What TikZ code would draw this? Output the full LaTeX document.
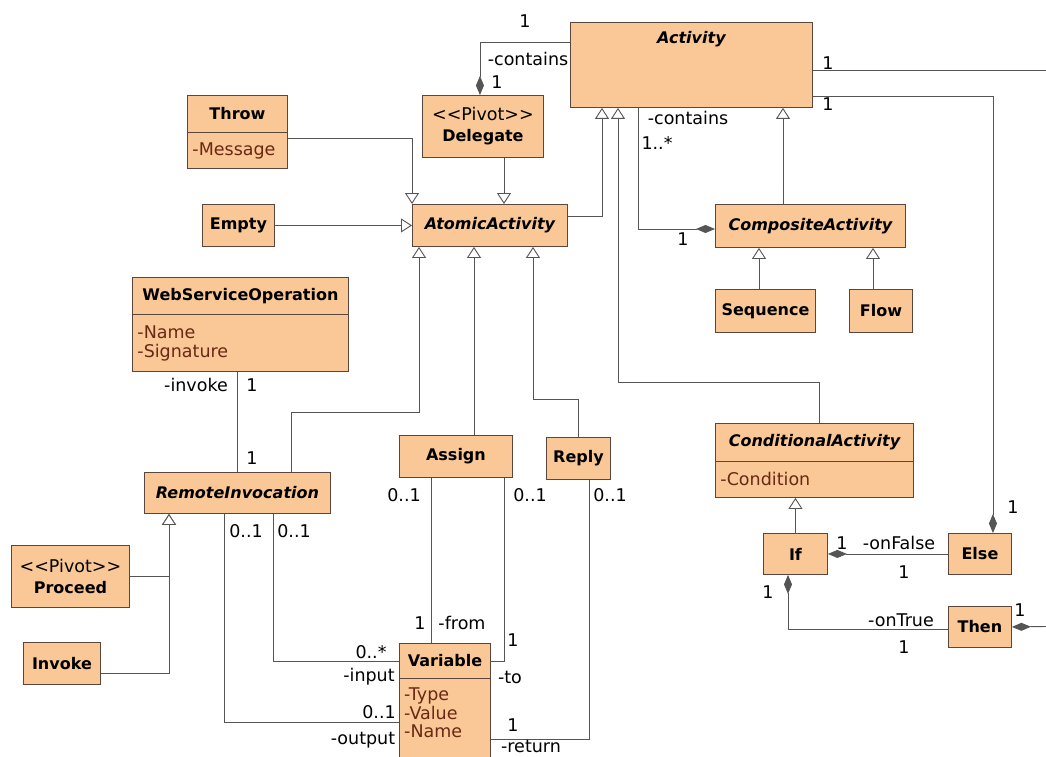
\documentclass[tikz,border=0pt]{standalone}
\usepackage{fontspec}
\setmainfont{DejaVu Sans}
\usetikzlibrary{arrows.meta,positioning}
\definecolor{boxfill}{RGB}{250,200,150}
\definecolor{boxline}{RGB}{90,70,60}
\definecolor{wirec}{RGB}{85,85,85}
\definecolor{attrtext}{RGB}{105,40,20}
\newcommand\lblfont{\fontsize{17.5}{20}\selectfont}
\newcommand\ttlfont{\fontsize{16}{19}\selectfont\bfseries}
\tikzset{
  cls/.style={draw=boxline, fill=boxfill, line width=0.9pt, anchor=north west, inner sep=2pt, align=center, font=\ttlfont},
  abscls/.style={cls, font=\ttlfont\itshape},
  attrbox/.style={draw=boxline, fill=boxfill, line width=0.9pt, anchor=north west, inner xsep=5pt, inner ysep=2pt, align=left, font=\lblfont, text=attrtext},
  lbl/.style={font=\lblfont, inner sep=0pt},
  assoc/.style={draw=wirec, line width=0.9pt},
  gen/.style={assoc, -{Triangle[open, length=11pt, width=14pt, fill=white]}},
  compo/.style={assoc, -{Diamond[length=19pt, width=8pt]}},
  compor/.style={assoc, {Diamond[length=19pt, width=8pt]}-},
}
\begin{document}
\begin{tikzpicture}[x=1pt, y=-1pt]
  \path[use as bounding box, fill=white] (0,0) rectangle (1046,757);
  \coordinate (redge1) at (1046,70);
  \coordinate (redge2) at (1046,626.5);

  % classes
  \node[abscls, minimum width=242, minimum height=85,
    label={[font=\ttlfont\itshape, anchor=north, yshift=-6pt]north:Activity}] (act) at (570,22) {};
  \node[cls, minimum width=121, minimum height=62] (del) at (422,95) {{\lblfont\mdseries <{}<Pivot>{}>}\\[2pt]Delegate};
  \node[cls, minimum width=100, minimum height=37] (throw) at (187,95) {Throw};
  \node[attrbox, text width=90pt, minimum height=36] (throwa) at (187,132) {-Message};
  \node[cls, minimum width=72, minimum height=42] (empty) at (202,204) {Empty};
  \node[abscls, minimum width=155, minimum height=42] (atom) at (412,204) {AtomicActivity};
  \node[abscls, minimum width=190, minimum height=43] (comp) at (715,204) {CompositeActivity};
  \node[cls, minimum width=100, minimum height=43] (seq) at (715,289) {Sequence};
  \node[cls, minimum width=63, minimum height=43] (flow) at (849,289) {Flow};
  \node[cls, minimum width=216, minimum height=37] (wso) at (132,277) {WebServiceOperation};
  \node[attrbox, text width=206pt, minimum height=57] (wsoa) at (132,314) {-Name\\[-1pt]-Signature};
  \node[abscls, minimum width=186, minimum height=41] (remote) at (144,472) {RemoteInvocation};
  \node[cls, minimum width=113, minimum height=42] (assign) at (399,435) {Assign};
  \node[cls, minimum width=64, minimum height=42] (reply) at (546,437) {Reply};
  \node[abscls, minimum width=198, minimum height=38] (cond) at (715,423) {ConditionalActivity};
  \node[attrbox, text width=188pt, minimum height=36] (conda) at (715,461) {-Condition};
  \node[cls, minimum width=64, minimum height=41] (ifn) at (763,533) {If};
  \node[cls, minimum width=63, minimum height=41] (else) at (948,533) {Else};
  \node[cls, minimum width=63, minimum height=41] (then) at (948,606) {Then};
  \node[cls, minimum width=118, minimum height=62] (proceed) at (11,545) {{\lblfont\mdseries <{}<Pivot>{}>}\\[2pt]Proceed};
  \node[cls, minimum width=77, minimum height=42] (invoke) at (23,642) {Invoke};
  \node[cls, minimum width=91, minimum height=35] (var) at (399,643) {Variable};
  \node[attrbox, minimum width=91, minimum height=82] (vara) at (399,678) {};
  \node[lbl, text=attrtext, align=left, anchor=north west, inner xsep=5pt, inner ysep=10pt] (vartxt) at (vara.north west) {-Type\\[-1pt]-Value\\[-2pt]-Name};

  % connectors
  \draw[compor] ([xshift=-3pt]del.north) |- (act.west |- 0,42);
  \draw[assoc] (act.east |- 0,70) -- (redge1);
  \draw[compo] (act.east |- 0,96) -| ([xshift=13pt]else.north);
  \draw[gen] ([yshift=12pt]throwa.east) -| (atom.north west);
  \draw[gen] (del.south -| 504,0) -- (atom.north -| 504,0);
  \draw[gen] (empty) -- (atom);
  \draw[gen] (atom.east |- 0,216) -| (act.south -| 602,0);
  \draw[gen] (cond.north -| 819,0) |- (618,382) -- (act.south -| 618,0);
  \draw[compo] (act.south -| 638,0) |- (comp.west |- 0,229);
  \draw[gen] (comp.north -| 783,0) -- (act.south -| 783,0);
  \draw[gen] (seq.north -| 759,0) -- (comp.south -| 759,0);
  \draw[gen] (flow.north -| 873,0) -- (comp.south -| 873,0);
  \draw[assoc] (wsoa.south -| remote.north) -- (remote.north);
  \draw[gen] (remote.north -| 291,0) |- (419,412) -- (atom.south -| 419,0);
  \draw[gen] (assign.north -| 474,0) -- (atom.south -| 474,0);
  \draw[gen] (reply.north) |- (533,399) -- (atom.south -| 533,0);
  \draw[gen] (ifn.north) -- (conda.south -| ifn.north);
  \draw[compo] (else) -- (ifn);
  \draw[compo] (then.west |- 0,629) -| (ifn.south -| 788,0);
  \draw[compor] (then.east) -- (redge2);
  \draw[gen] (proceed.east) -| (remote.south -| 169,0);
  \draw[gen] (invoke.east |- 0,673) -| (remote.south -| 169,0);
  \draw[assoc] (remote.south -| 273,0) |- (var.west);
  \draw[assoc] (remote.south -| 224,0) |- (vara.west |- 0,722);
  \draw[assoc] (assign.south -| 431,0) -- (var.north -| 431,0);
  \draw[assoc] (assign.south -| 504,0) |- (var.east);
  \draw[assoc] (reply.south -| 589,0) |- (vara.east |- 0,739);

  % role names and multiplicities
  \node[lbl] (delm1) at (525,21) {1};
  \node[lbl] (delrole) at (528,59) {-contains};
  \node[lbl] (delm2) at (497,82) {1};
  \node[lbl] (actm1) at (828,63) {1};
  \node[lbl] (actm2) at (828,104) {1};
  \node[lbl] (comprole) at (688,118) {-contains};
  \node[lbl] (compm1) at (657,143) {1..*};
  \node[lbl] (compm2) at (683,239) {1};
  \node[lbl] (wsorole) at (196,385) {-invoke};
  \node[lbl] (wsom1) at (252,385) {1};
  \node[lbl] (wsom2) at (252,458) {1};
  \node[lbl] (assignm1) at (404,495) {0..1};
  \node[lbl] (assignm2) at (530,495) {0..1};
  \node[lbl] (replym1) at (610,495) {0..1};
  \node[lbl] (remotem1) at (246,531) {0..1};
  \node[lbl] (remotem2) at (294,531) {0..1};
  \node[lbl] (inm) at (371,652) {0..*};
  \node[lbl] (inrole) at (369,677) {-input};
  \node[lbl] (outm) at (379,712) {0..1};
  \node[lbl] (outrole) at (363,740) {-output};
  \node[lbl] (fromm) at (420,623) {1};
  \node[lbl] (fromrole) at (462,623) {-from};
  \node[lbl] (tom) at (513,640) {1};
  \node[lbl] (torole) at (510,677) {-to};
  \node[lbl] (retm) at (513,725) {1};
  \node[lbl] (retrole) at (531,746) {-return};
  \node[lbl] (elsem1) at (1013,507) {1};
  \node[lbl] (falsem1) at (842,543) {1};
  \node[lbl] (falserole) at (899,543) {-onFalse};
  \node[lbl] (falsem2) at (904,572) {1};
  \node[lbl] (truem1) at (768,592) {1};
  \node[lbl] (truerole) at (901,620) {-onTrue};
  \node[lbl] (truem2) at (904,647) {1};
  \node[lbl] (thenm) at (1020,610) {1};
\end{tikzpicture}
\end{document}
